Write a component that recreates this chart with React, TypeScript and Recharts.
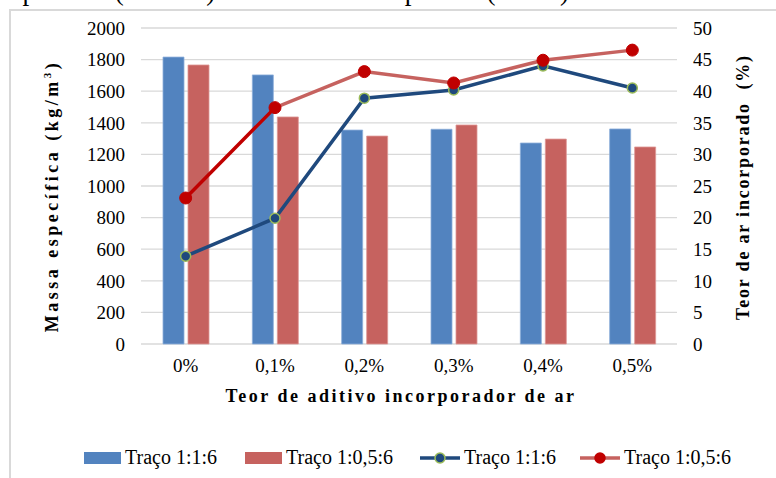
import React from "react";
import { Bar, CartesianGrid, ComposedChart, Line, XAxis, YAxis } from "recharts";

const categories = ["0%", "0,1%", "0,2%", "0,3%", "0,4%", "0,5%"];
const massaTraco116 = [1816, 1703, 1354, 1359, 1272, 1361];
const massaTraco1056 = [1766, 1437, 1316, 1386, 1297, 1247];
const arTraco116 = [13.9, 19.9, 38.9, 40.2, 44.0, 40.5];
const arTraco1056 = [23.1, 37.4, 43.1, 41.3, 44.9, 46.5];
const leftTicks = [0, 200, 400, 600, 800, 1000, 1200, 1400, 1600, 1800, 2000];
const rightTicks = [0, 5, 10, 15, 20, 25, 30, 35, 40, 45, 50];

const FONT = "'Liberation Serif', 'DejaVu Serif', serif";

const data = categories.map((c, i) => ({
  name: c,
  b1: massaTraco116[i],
  b2: massaTraco1056[i],
  l1: arTraco116[i],
  l2: arTraco1056[i],
}));

const BLUE_BAR = "#5283BF";
const RED_BAR = "#C6625F";
const BLUE_LINE = "#1F497D";
const RED_DARK = "#C00000";

function LegendRow() {
  const item = (icon: React.ReactNode, label: string, left: number) => (
    <div style={{ position: "absolute", left, top: 0, display: "flex", alignItems: "center" }}>
      {icon}
      <span style={{ marginLeft: 4 }}>{label}</span>
    </div>
  );
  const rect = (color: string) => (
    <svg width={37} height={12}><rect x={0} y={0} width={37} height={12} fill={color} /></svg>
  );
  const line = (color: string, dot: string, dotStroke: string) => (
    <svg width={40} height={14}>
      <line x1={0} y1={7} x2={40} y2={7} stroke={color} strokeWidth={3.5} />
      <circle cx={20} cy={7} r={5} fill={dot} stroke={dotStroke} strokeWidth={1.5} />
    </svg>
  );
  return (
    <div style={{ position: "absolute", left: 0, top: 446, width: 776, height: 24, fontFamily: FONT, fontSize: 20, color: "#000" }}>
      {item(rect(BLUE_BAR), "Traço 1:1:6", 84)}
      {item(rect(RED_BAR), "Traço 1:0,5:6", 245)}
      {item(line(BLUE_LINE, BLUE_LINE, "#9BBB59"), "Traço 1:1:6", 420)}
      {item(line(RED_BAR, RED_DARK, RED_DARK), "Traço 1:0,5:6", 580)}
    </div>
  );
}

export default function App() {
  const tickStyle = { fontFamily: FONT, fontSize: 19, fill: "#000" };
  const titleStyle: React.CSSProperties = {
    position: "absolute",
    fontFamily: FONT,
    fontWeight: "bold",
    fontSize: 18,
    whiteSpace: "pre",
    color: "#000",
  };
  return (
    <div style={{ position: "absolute", left: 0, top: 0, width: 776, height: 478, overflow: "hidden", background: "#fff" }}>
      {/* cut-off caption line from the page above */}
      <div style={{ position: "absolute", left: 0, top: -22, fontFamily: FONT, fontSize: 27, lineHeight: "27px", whiteSpace: "nowrap", color: "#000" }}>
        específica (colunas) e teor de ar incorporado (linhas) no estado fresco
      </div>
      <div style={{ position: "absolute", left: 9, top: 9, width: 800, height: 500, border: "2px solid #D9D9D9" }} />
      <div style={{ position: "absolute", left: 0, top: 0 }}>
        <ComposedChart width={776} height={478} data={data} margin={{ top: 28, right: 0, bottom: 94, left: 0 }} barSize={21} barGap={4}>
          <defs>
            <linearGradient id="redSeg" x1="0" y1="0" x2="1" y2="0">
              <stop offset="0" stopColor={RED_DARK} />
              <stop offset="0.2" stopColor={RED_DARK} />
              <stop offset="0.2" stopColor={RED_BAR} />
              <stop offset="1" stopColor={RED_BAR} />
            </linearGradient>
          </defs>
          <CartesianGrid yAxisId="left" vertical={false} stroke="#D9D9D9" strokeWidth={1.3} />
          <XAxis dataKey="name" height={40} axisLine={false} tickLine={false} tickSize={0} tickMargin={15} tick={tickStyle} />
          <YAxis yAxisId="left" orientation="left" width={141} domain={[0, 2000]} ticks={leftTicks} interval={0}
            axisLine={false} tickLine={false} tickSize={0} tickMargin={16} tick={tickStyle} />
          <YAxis yAxisId="right" orientation="right" width={99} domain={[0, 50]} ticks={rightTicks} interval={0}
            axisLine={false} tickLine={false} tickSize={0} tickMargin={16} tick={{ ...tickStyle, textAnchor: "start" }} />
          <Bar yAxisId="left" dataKey="b1" fill={BLUE_BAR} stroke="#8DAEDA" strokeWidth={0.8} isAnimationActive={false} />
          <Bar yAxisId="left" dataKey="b2" fill={RED_BAR} stroke="#DE9896" strokeWidth={0.8} isAnimationActive={false} />
          <Line yAxisId="right" dataKey="l1" type="linear" stroke={BLUE_LINE} strokeWidth={3.5}
            dot={{ r: 5, fill: BLUE_LINE, stroke: "#9BBB59", strokeWidth: 1.5 }} activeDot={false} isAnimationActive={false} />
          <Line yAxisId="right" dataKey="l2" type="linear" stroke="url(#redSeg)" strokeWidth={3.5}
            dot={{ r: 6, fill: RED_DARK, stroke: RED_DARK, strokeWidth: 1 }} activeDot={false} isAnimationActive={false} />
        </ComposedChart>
      </div>
      <div style={{ ...titleStyle, left: 52, top: 196, letterSpacing: 3.5, transform: "translate(-50%, -50%) rotate(-90deg)" }}>
        Massa específica (kg/m<sup style={{ fontSize: 11 }}>3</sup>)
      </div>
      <div style={{ ...titleStyle, left: 743, top: 187, letterSpacing: 1.8, transform: "translate(-50%, -50%) rotate(-90deg)" }}>
        {"Teor de ar incorporado  (%)"}
      </div>
      <div style={{ ...titleStyle, left: 401, top: 396, letterSpacing: 2.5, transform: "translate(-50%, -50%)" }}>
        Teor de aditivo incorporador de ar
      </div>
      <LegendRow />
    </div>
  );
}
